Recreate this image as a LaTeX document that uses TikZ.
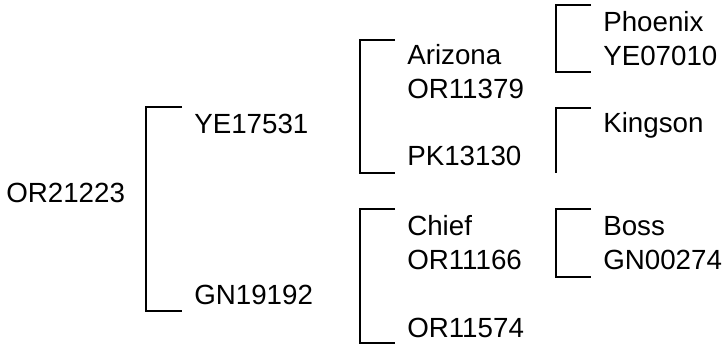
\documentclass[tikz,border=0pt]{standalone}
\usepackage{fontspec}
\setmainfont{Liberation Sans}
\usetikzlibrary{positioning}
\tikzset{
  bracket/.style={line width=1.5pt},
  lbl/.style={anchor=base west,inner sep=0pt,font=\fontsize{20.8}{25}\selectfont},
}
\begin{document}
\begin{tikzpicture}[x=0.75pt,y=-0.75pt]
\useasboundingbox (0,0) rectangle (723,345);
% animals
\node[lbl] (or21223) at (6,202) {OR21223};
\node[lbl] (ye17531) at (194,134) {YE17531};
\node[lbl] (gn19192) at (194,304) {GN19192};
\node[lbl] (arizona) at (407,65) {Arizona};
\node[lbl] (or11379) at (407,99) {OR11379};
\node[lbl] (pk13130) at (407,166) {PK13130};
\node[lbl] (chief) at (407,235) {Chief};
\node[lbl] (or11166) at (407,269) {OR11166};
\node[lbl] (or11574) at (407,337) {OR11574};
\node[lbl] (phoenix) at (603,32) {Phoenix};
\node[lbl] (ye07010) at (603,66) {YE07010};
\node[lbl] (kingson) at (603,133) {Kingson};
\node[lbl] (boss) at (603,235) {Boss};
\node[lbl] (gn00274) at (603,269) {GN00274};
% bracket corners
\coordinate (b1t) at (182,107); \coordinate (b1b) at (182,311);
\coordinate (b2t) at (395,40);  \coordinate (b2b) at (395,173);
\coordinate (b3t) at (395,209); \coordinate (b3b) at (395,343);
\coordinate (b4t) at (591,5);   \coordinate (b4b) at (591,72);
\coordinate (b5t) at (591,108); \coordinate (b5b) at (556,173);
\coordinate (b6t) at (591,209); \coordinate (b6b) at (591,277);
\draw[bracket] (b1t) -- +(-36,0) |- (b1b);
\draw[bracket] (b2t) -- +(-35,0) |- (b2b);
\draw[bracket] (b3t) -- +(-35,0) |- (b3b);
\draw[bracket] (b4t) -- +(-35,0) |- (b4b);
\draw[bracket] (b5t) -- +(-35,0) -- (b5b);
\draw[bracket] (b6t) -- +(-35,0) |- (b6b);
\end{tikzpicture}
\end{document}
